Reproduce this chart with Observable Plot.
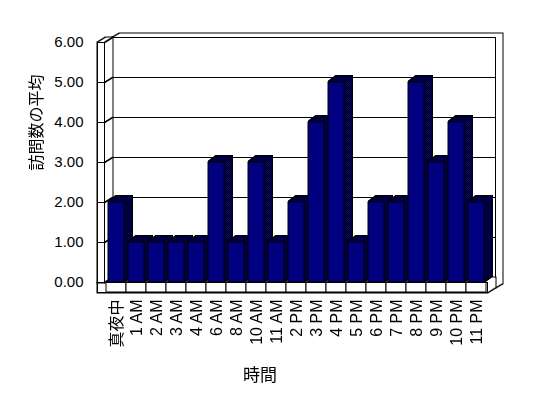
<!DOCTYPE html>
<html><head><meta charset="utf-8">
<script src="https://cdn.jsdelivr.net/npm/d3@7"></script>
<script src="https://cdn.jsdelivr.net/npm/@observablehq/plot@0.6"></script>
<style>html,body{margin:0;padding:0;background:#fff}</style>
</head><body>
<svg width="0" height="0" style="position:absolute"><defs>
<pattern id="dither" width="2" height="2" patternUnits="userSpaceOnUse">
<rect width="2" height="2" fill="#000080"/><rect width="1" height="1" fill="#000000"/><rect x="1" y="1" width="1" height="1" fill="#000000"/>
</pattern></defs></svg>
<div id="chart"></div>
<script>
const categories = ["真夜中","1 AM","2 AM","3 AM","4 AM","6 AM","8 AM","10 AM","11 AM","2 PM","3 PM","4 PM","5 PM","6 PM","7 PM","8 PM","9 PM","10 PM","11 PM"];
const values = [2,1,1,1,1,3,1,3,1,2,4,5,1,2,2,5,3,4,2];
const yTicks = [0,1,2,3,4,5,6];
const yTickLabels = ["0.00","1.00","2.00","3.00","4.00","5.00","6.00"];
const xTitle = "時間";
const yTitle = "訪問数の平均";

const data = categories.map((c, i) => ({hour: c, value: values[i]}));

const W = 548, H = 398, ML = 104, MR = 61, MT = 42, MB = 116;
const FW = W - ML - MR, FH = H - MT - MB;
const FONT = "'Liberation Sans', Arial, sans-serif";
const CJK = "'Noto Sans CJK JP', sans-serif";
const isCJK = s => /[\u3000-\u9fff]/.test(s);
const GRAY = "grayscale(1)";

function offsets(from, to, n) {
  return d3.range(n + 1).map(i => [from[0] + (to[0] - from[0]) * i / n, from[1] + (to[1] - from[1]) * i / n]);
}
function slab(opts, from, to, n, fill) {
  const offs = offsets(from, to, n);
  return [
    ...offs.map(([dx, dy]) => Plot.frame({...opts, dx, dy, fill: "black", stroke: "black", strokeWidth: 2})),
    ...offs.map(([dx, dy]) => Plot.frame({...opts, dx, dy, fill, stroke: "none"}))
  ];
}

const marks = [];
// back wall
marks.push(...slab({insetBottom: -10}, [8, -5], [15, -9], 7, "white"));
marks.push(Plot.frame({dx: 8, dy: -5, stroke: "black"}));
marks.push(Plot.gridY(yTicks, {dx: 8, dy: -5, stroke: "black", strokeOpacity: 1}));
// floor
marks.push(...slab({insetLeft: -7, insetTop: FH, insetBottom: -10}, [0, 0], [8, -5], 8, "white"));
marks.push(Plot.barY(data, {x: "hour", y1: 0, y2: 0, insetBottom: -10, fill: "white", stroke: "black"}));
marks.push(Plot.frame({insetLeft: -7, insetTop: FH, insetBottom: -10, stroke: "black"}));
// left wall
marks.push(...slab({insetLeft: -7, insetRight: FW}, [0, 0], [8, -5], 8, "white"));
marks.push(Plot.frame({insetLeft: -7, insetRight: FW, stroke: "black"}));
marks.push(Plot.vector(yTicks, {y: d => d, frameAnchor: "left", length: Math.hypot(8, 5), rotate: Math.atan2(8, 5) * 180 / Math.PI, anchor: "start", stroke: "black",
  shape: {draw(ctx, l) { ctx.moveTo(0, 0); ctx.lineTo(0, -l); }}}));
marks.push(Plot.axisY({ticks: yTicks, tickFormat: d => yTickLabels[yTicks.indexOf(d)], tickSize: 7, tickPadding: 14, fontSize: 15, fontFamily: FONT, label: null, stroke: "black", fill: "black"}));
// bars
data.forEach(d => {
  const offs = offsets([1, -0.75], [8, -6], 7);
  offs.forEach(([dx, dy]) => marks.push(Plot.barY([d], {x: "hour", y: "value", dx, dy, insetLeft: 2, insetRight: 2, fill: "black", stroke: "black", strokeWidth: 2})));
  offs.forEach(([dx, dy]) => marks.push(Plot.barY([d], {x: "hour", y: "value", dx, dy, insetLeft: 2, insetRight: 2, fill: "url(#dither)"})));
  marks.push(Plot.barY([d], {x: "hour", y: "value", insetLeft: 2, insetRight: 2, fill: "#000080", stroke: "black"}));
});
marks.push(Plot.axisX({ticks: categories.filter(c => !isCJK(c)), tickSize: 0, tickPadding: 17, tickRotate: -90, fontSize: 16, fontFamily: FONT, label: null, fill: "black", imageFilter: GRAY}));
marks.push(Plot.axisX({ticks: categories.filter(isCJK), tickSize: 0, tickPadding: 17, tickRotate: -90, fontSize: 16, fontFamily: CJK, label: null, fill: "black", imageFilter: GRAY}));
marks.push(Plot.text([xTitle], {text: d => d, frameAnchor: "bottom", dx: -36, dy: 93, fontSize: 17, fontFamily: CJK, lineAnchor: "middle", fill: "black", imageFilter: GRAY}));
marks.push(Plot.text([yTitle], {text: d => d, frameAnchor: "left", rotate: -90, dx: -68, dy: 8, fontSize: 16, fontFamily: CJK, lineAnchor: "middle", fill: "black", imageFilter: GRAY}));

const chart = Plot.plot({
  width: W, height: H,
  marginLeft: ML, marginRight: MR, marginTop: MT, marginBottom: MB,
  style: {background: "white", color: "black", fontFamily: FONT, overflow: "visible"},
  x: {type: "band", domain: categories, padding: 0, axis: null},
  y: {domain: [0, 6], axis: null},
  marks
});
document.getElementById("chart").appendChild(chart);
</script>
</body></html>
